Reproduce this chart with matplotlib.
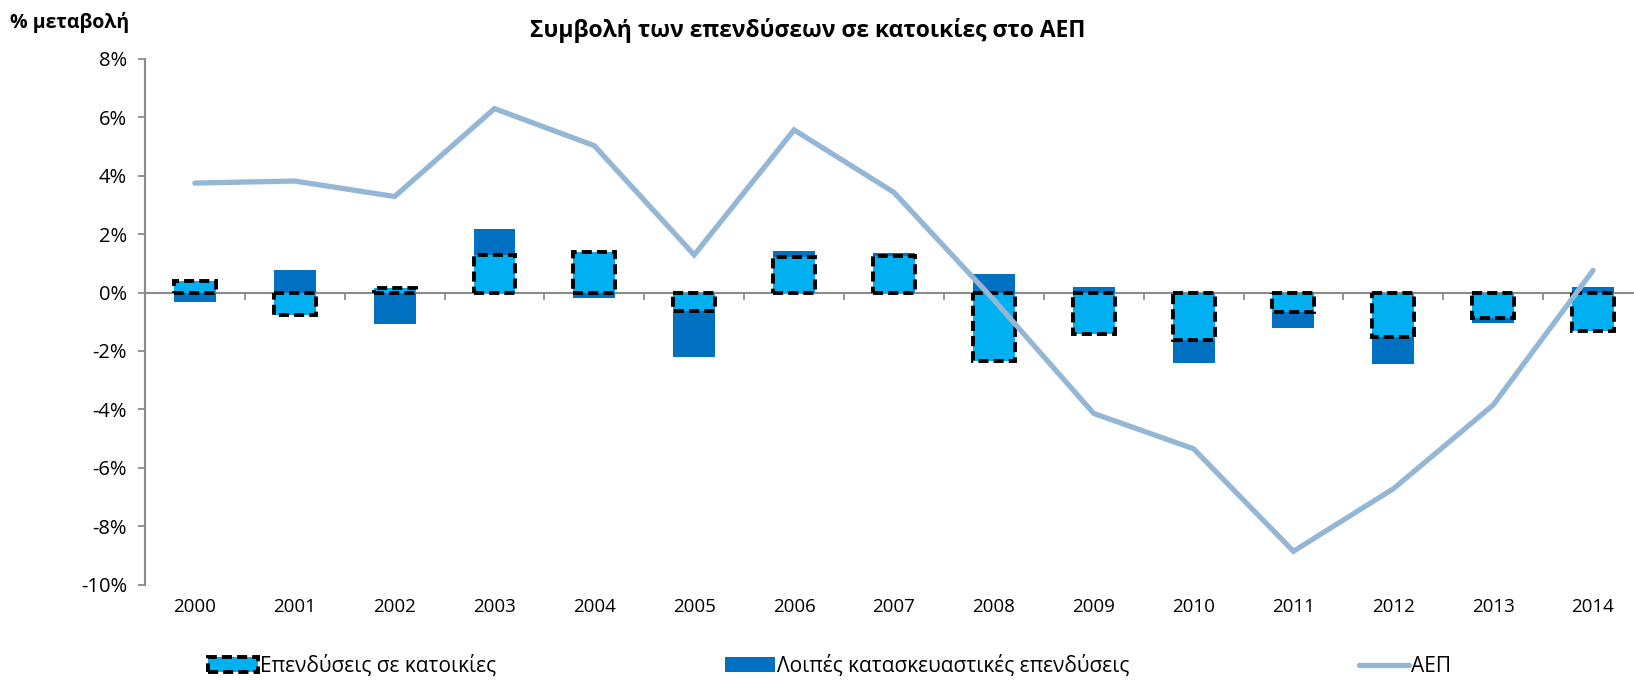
import numpy as np
import matplotlib
matplotlib.use("Agg")
import matplotlib.pyplot as plt

plt.rcParams['font.family'] = ['Open Sans', 'DejaVu Sans']

# ── data ────────────────────────────────────────────────────────────── #
years = ["2000", "2001", "2002", "2003", "2004", "2005", "2006", "2007",
         "2008", "2009", "2010", "2011", "2012", "2013", "2014"]
housing = [0.40, -0.76, 0.15, 1.29, 1.38, -0.63, 1.21, 1.25,
           -2.36, -1.41, -1.64, -0.68, -1.51, -0.88, -1.32]
other_constr = [-0.31, 0.76, -1.08, 0.89, -0.19, -1.59, 0.23, 0.12,
                0.62, 0.18, -0.78, -0.53, -0.95, -0.15, 0.18]
gdp = [3.75, 3.82, 3.29, 6.30, 5.03, 1.29, 5.57, 3.43,
       -0.25, -4.14, -5.35, -8.86, -6.72, -3.85, 0.76]

title = "Συμβολή των επενδύσεων σε κατοικίες στο ΑΕΠ"
ylabel = "% μεταβολή"
lbl_housing = "Επενδύσεις σε κατοικίες"
lbl_other = "Λοιπές κατασκευαστικές επενδύσεις"
lbl_gdp = "ΑΕΠ"

C_HOUSE = "#00B0F0"
C_OTHER = "#0070C0"
C_GDP = "#95B7D6"
C_AXIS = "#8C8C8C"

# ── figure ──────────────────────────────────────────────────────────── #
fig = plt.figure(figsize=(16.34, 6.81), dpi=100)
ax = fig.add_axes([0.0887, 0.1416, 0.9168, 0.7718])

x = np.arange(len(years))
h = np.array(housing)
o = np.array(other_constr)
# excel-style stacking: same sign sits on top of housing, else from zero
o_bottom = np.where(np.sign(o) == np.sign(h), h, 0.0)
w = 0.42

b_other = ax.bar(x, o, w, bottom=o_bottom, color=C_OTHER, zorder=2)
b_house = ax.bar(x, h, w, color=C_HOUSE, edgecolor="black", linewidth=2.8,
                 linestyle=(0, (2.6, 1.3)), zorder=3)
l_gdp, = ax.plot(x, gdp, color=C_GDP, lw=3.8, zorder=4,
                 solid_capstyle="round", solid_joinstyle="miter")

ax.set_xlim(-0.5, len(years) - 0.5)
ax.set_ylim(-10, 8)
ax.set_yticks(np.arange(-10, 9, 2))
ax.set_yticklabels([f"{v}%" for v in range(-10, 9, 2)])

# zero line with tick marks at category boundaries
for s in ["top", "right"]:
    ax.spines[s].set_visible(False)
ax.spines["bottom"].set_position(("data", 0))
ax.spines["bottom"].set_color(C_AXIS)
ax.spines["bottom"].set_linewidth(1.5)
ax.spines["bottom"].set_zorder(1)
ax.spines["left"].set_color(C_AXIS)
ax.spines["left"].set_linewidth(1.5)
ax.set_xticks(np.arange(0.5, len(years) - 0.5, 1.0))
ax.tick_params(axis="x", direction="out", length=5, width=1.3,
               color=C_AXIS, labelbottom=False)
ax.tick_params(axis="y", direction="out", length=5, width=1.3,
               color=C_AXIS, labelsize=14.5, pad=8)

sec = ax.secondary_xaxis("bottom")
sec.set_xticks(x)
sec.set_xticklabels(years)
sec.tick_params(length=0, labelsize=13.5, pad=10)
sec.spines["bottom"].set_visible(False)

fig.text(0.4945, 0.955, title, ha="center", va="center",
         fontsize=16.5, fontweight="bold")
fig.text(0.006, 0.967, ylabel, ha="left", va="center",
         fontsize=14, fontweight="bold")

fig.legend([b_house, b_other, l_gdp], [lbl_housing, lbl_other, lbl_gdp],
           loc="center left", bbox_to_anchor=(0.122, 0.022), ncol=3,
           frameon=False, fontsize=15, handlelength=2.4, handletextpad=0.1,
           columnspacing=11.0, borderaxespad=0)

fig.savefig("out.png", dpi=100)
